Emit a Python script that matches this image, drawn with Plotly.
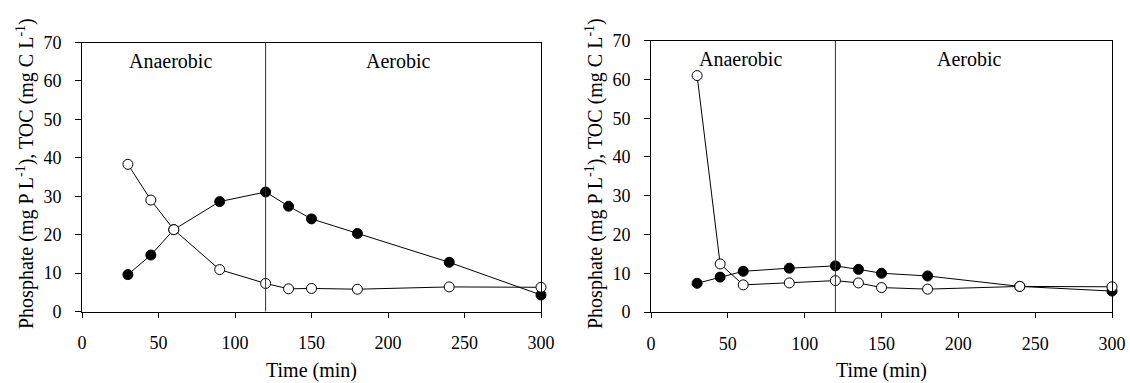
import plotly.graph_objects as go

# Sampling times (min)
time_min = [30, 45, 60, 90, 120, 135, 150, 180, 240, 300]

# Panel A
phosphate_a = [9.6, 14.7, 21.3, 28.6, 31.1, 27.4, 24.1, 20.3, 12.8, 4.3]
toc_a = [38.3, 29.0, 21.3, 10.9, 7.3, 5.9, 6.0, 5.8, 6.4, 6.3]

# Panel B
phosphate_b = [7.4, 9.0, 10.5, 11.3, 11.9, 11.0, 10.0, 9.3, 6.6, 5.4]
toc_b = [61.0, 12.4, 7.0, 7.5, 8.1, 7.5, 6.3, 5.9, 6.6, 6.5]

phase_switch = 120
x_ticks = [0, 50, 100, 150, 200, 250, 300]
y_ticks = [0, 10, 20, 30, 40, 50, 60, 70]

FONT = "Times New Roman, Liberation Serif, Times, DejaVu Serif, serif"
W, H = 1130, 383

fig = go.Figure()

panels = [
    ("x", "y", phosphate_a, toc_a),
    ("x2", "y2", phosphate_b, toc_b),
]
for xa, ya, phos, toc in panels:
    fig.add_trace(go.Scatter(
        x=time_min, y=phos, xaxis=xa, yaxis=ya, mode="lines+markers",
        line=dict(color="black", width=1),
        marker=dict(symbol="circle", size=10, color="black",
                    line=dict(color="black", width=1)),
        cliponaxis=False, showlegend=False,
    ))
    fig.add_trace(go.Scatter(
        x=time_min, y=toc, xaxis=xa, yaxis=ya, mode="lines+markers",
        line=dict(color="black", width=1),
        marker=dict(symbol="circle", size=10, color="white",
                    line=dict(color="black", width=1)),
        cliponaxis=False, showlegend=False,
    ))
    # anaerobic / aerobic boundary
    fig.add_shape(type="line", xref=xa, yref=f"{ya} domain",
                  x0=phase_switch, x1=phase_switch, y0=0, y1=1,
                  line=dict(color="#333333", width=1))
    fig.add_annotation(x=58, y=65.3, xref=xa, yref=ya, text="Anaerobic",
                       showarrow=False, font=dict(family=FONT, size=20, color="black"))
    fig.add_annotation(x=207, y=65.3, xref=xa, yref=ya, text="Aerobic",
                       showarrow=False, font=dict(family=FONT, size=20, color="black"))

axis_common = dict(
    showline=True, linecolor="black", linewidth=1, mirror=True,
    ticks="outside", tickcolor="black", tickwidth=1,
    showgrid=False, zeroline=False, automargin=False,
    tickfont=dict(family=FONT, size=18, color="black"),
)

fig.update_layout(
    width=W, height=H,
    margin=dict(l=0, r=0, t=0, b=0, autoexpand=False),
    font=dict(family=FONT, color="black"),
    paper_bgcolor="white", plot_bgcolor="white",
    xaxis=dict(domain=[82 / W, 541 / W], range=[0, 300], tickvals=x_ticks,
               ticklen=5, ticklabelstandoff=10, anchor="y", **axis_common),
    yaxis=dict(domain=[1 - 311.5 / H, 1 - 42.5 / H], range=[0, 70], tickvals=y_ticks,
               ticklen=6, ticklabelstandoff=10, anchor="x", **axis_common),
    xaxis2=dict(domain=[651 / W, 1112 / W], range=[0, 300], tickvals=x_ticks,
                ticklen=5, ticklabelstandoff=10, anchor="y2", **axis_common),
    yaxis2=dict(domain=[1 - 312 / H, 1 - 40.7 / H], range=[0, 70], tickvals=y_ticks,
                ticklen=6, ticklabelstandoff=10, anchor="x2", **axis_common),
)

y_title = "Phosphate (mg P L<sup>-1</sup>), TOC (mg C L<sup>-1</sup>)"
title_font = dict(family=FONT, size=20, color="black")

# axis titles
for cx in (311.5, 881.5):
    fig.add_annotation(x=cx / W, y=1 - 370 / H, xref="paper", yref="paper",
                       text="Time (min)", showarrow=False, font=title_font,
                       xanchor="center", yanchor="middle")
for cx in (25, 594):
    fig.add_annotation(x=cx / W, y=1 - 174 / H, xref="paper", yref="paper",
                       text=y_title, textangle=-90, showarrow=False, font=title_font,
                       xanchor="center", yanchor="middle")

fig.write_html("out.html")
